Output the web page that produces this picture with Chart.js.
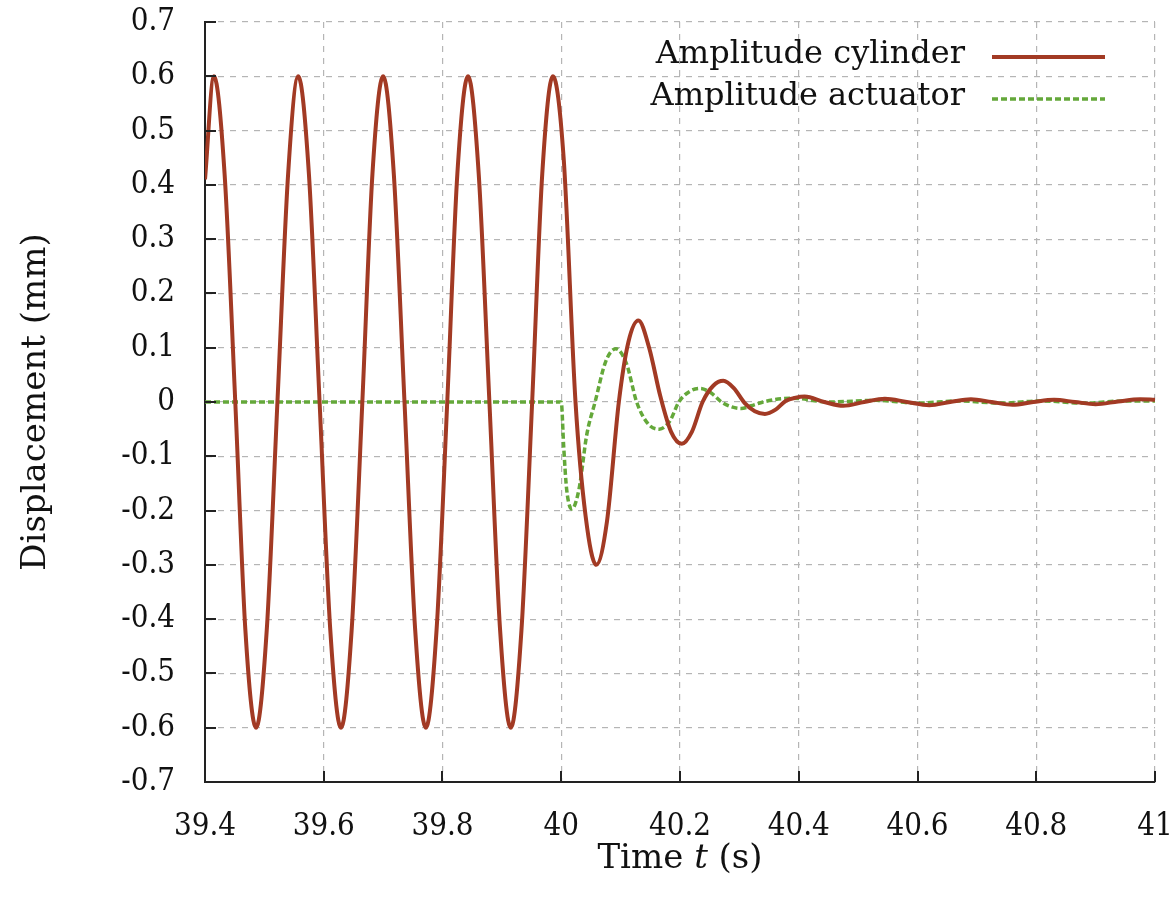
<!DOCTYPE html>
<html>
<head>
<meta charset="utf-8">
<script src="https://cdn.jsdelivr.net/npm/chart.js@4.4.1/dist/chart.umd.min.js"></script>
<style>
  html, body { margin: 0; padding: 0; background: #fff; }
  #wrap { width: 1176px; height: 902px; position: relative; }
</style>
</head>
<body>
<div id="wrap"><canvas id="displacementChart"></canvas></div>
<script>
// values
const cylinderTime = [39.400, 39.415, 39.433, 39.451, 39.468, 39.486, 39.504, 39.522, 39.540, 39.557,
  39.575, 39.593, 39.611, 39.629, 39.647, 39.665, 39.682, 39.700, 39.718, 39.736,
  39.754, 39.772, 39.790, 39.808, 39.825, 39.843, 39.861, 39.879, 39.897, 39.915,
  39.933, 39.951, 39.968, 39.986, 40.004, 40.024, 40.041, 40.059, 40.077, 40.097,
  40.113, 40.130, 40.148, 40.167, 40.185, 40.203, 40.220, 40.238, 40.256, 40.273,
  40.291, 40.309, 40.326, 40.343, 40.361, 40.378, 40.395, 40.410, 40.443, 40.475,
  40.510, 40.545, 40.582, 40.620, 40.655, 40.690, 40.725, 40.760, 40.795, 40.830,
  40.865, 40.900, 40.938, 40.975, 41.000];
const cylinderAmp = [0.41, 0.60, 0.42, 0.00, -0.42, -0.60, -0.42, 0.00, 0.42, 0.60,
  0.42, 0.00, -0.42, -0.60, -0.42, 0.00, 0.42, 0.60, 0.42, 0.00,
  -0.42, -0.60, -0.42, 0.00, 0.42, 0.60, 0.42, 0.00, -0.42, -0.60,
  -0.42, 0.00, 0.42, 0.60, 0.45, 0.00, -0.21, -0.30, -0.22, 0.00,
  0.11, 0.15, 0.10, 0.01, -0.055, -0.077, -0.055, 0.00, 0.03, 0.039,
  0.025, -0.002, -0.017, -0.022, -0.014, 0.002, 0.008, 0.010, 0.000, -0.007,
  0.000, 0.006, 0.000, -0.006, 0.000, 0.005, 0.000, -0.005, 0.000, 0.004,
  0.000, -0.004, 0.001, 0.005, 0.004];

const actuatorTime = [39.400, 40.000, 40.004, 40.009, 40.018, 40.030, 40.043, 40.057, 40.075, 40.092,
  40.110, 40.127, 40.146, 40.165, 40.183, 40.198, 40.217, 40.234, 40.252, 40.270,
  40.287, 40.303, 40.320, 40.340, 40.370, 40.390, 40.450, 40.530, 40.600, 40.670,
  40.740, 40.810, 40.880, 40.950, 41.000];
const actuatorAmp = [0.000, 0.000, -0.08, -0.16, -0.197, -0.16, -0.06, 0.00, 0.075, 0.098,
  0.07, 0.00, -0.04, -0.050, -0.035, 0.00, 0.02, 0.025, 0.017, 0.000,
  -0.009, -0.012, -0.007, 0.000, 0.006, 0.007, 0.000, 0.003, -0.002, 0.002,
  -0.002, 0.002, -0.002, 0.002, 0.002];

const seriesNames = ['Amplitude cylinder', 'Amplitude actuator'];
const xTicks = [39.4, 39.6, 39.8, 40, 40.2, 40.4, 40.6, 40.8, 41];
const xTickLabels = ['39.4', '39.6', '39.8', '40', '40.2', '40.4', '40.6', '40.8', '41'];
const yTicks = [-0.7, -0.6, -0.5, -0.4, -0.3, -0.2, -0.1, 0, 0.1, 0.2, 0.3, 0.4, 0.5, 0.6, 0.7];
const yTickLabels = ['-0.7', '-0.6', '-0.5', '-0.4', '-0.3', '-0.2', '-0.1', '0', '0.1', '0.2', '0.3', '0.4', '0.5', '0.6', '0.7'];

const NUM_FONT = '"DejaVu Serif Condensed", "DejaVu Serif", serif';
const TXT_FONT = '"DejaVu Serif", serif';

// gnuplot style key: text right aligned, sample line on the right
const keyPlugin = {
  id: 'gnuplotKey',
  afterDatasetsDraw(chart) {
    const ctx = chart.ctx;
    const rows = [55, 97];
    ctx.save();
    ctx.font = '32px ' + TXT_FONT;
    ctx.textAlign = 'right';
    ctx.textBaseline = 'middle';
    chart.data.datasets.forEach((ds, i) => {
      const y = rows[i];
      ctx.fillStyle = '#111';
      ctx.fillText(ds.label, 965, y);
      ctx.strokeStyle = ds.borderColor;
      ctx.lineWidth = ds.borderWidth;
      ctx.setLineDash(ds.borderDash || []);
      ctx.beginPath();
      ctx.moveTo(992, y + 2);
      ctx.lineTo(1105, y + 2);
      ctx.stroke();
    });
    ctx.restore();
  }
};

// inward tick marks plus x axis title with italic t
const axisExtras = {
  id: 'axisExtras',
  afterDraw(chart) {
    const ctx = chart.ctx;
    const { left, bottom } = chart.chartArea;
    const xs = chart.scales.x, ys = chart.scales.y;
    ctx.save();
    ctx.strokeStyle = '#222';
    ctx.lineWidth = 2;
    yTicks.forEach(v => {
      const y = Math.round(ys.getPixelForValue(v));
      ctx.beginPath(); ctx.moveTo(left, y); ctx.lineTo(left + 11, y); ctx.stroke();
    });
    xTicks.forEach(v => {
      const x = Math.round(xs.getPixelForValue(v));
      ctx.beginPath(); ctx.moveTo(x, bottom); ctx.lineTo(x, bottom - 11); ctx.stroke();
    });

    const parts = [['Time ', '34px ' + TXT_FONT], ['t', 'italic 34px ' + TXT_FONT], [' (s)', '34px ' + TXT_FONT]];
    let total = 0;
    parts.forEach(p => { ctx.font = p[1]; total += ctx.measureText(p[0]).width; });
    let x = (chart.chartArea.left + chart.chartArea.right) / 2 - total / 2;
    ctx.fillStyle = '#111';
    ctx.textBaseline = 'middle';
    ctx.textAlign = 'left';
    parts.forEach(p => {
      ctx.font = p[1];
      ctx.fillText(p[0], x, 859);
      x += ctx.measureText(p[0]).width;
    });
    ctx.restore();
  }
};

const ctx = document.getElementById('displacementChart').getContext('2d');

new Chart(ctx, {
  type: 'line',
  data: {
    datasets: [
      {
        label: seriesNames[0],
        data: cylinderTime.map((t, i) => ({ x: t, y: cylinderAmp[i] })),
        borderColor: '#a23a24',
        borderWidth: 4,
        pointRadius: 0,
        cubicInterpolationMode: 'monotone',
        fill: false,
      },
      {
        label: seriesNames[1],
        data: actuatorTime.map((t, i) => ({ x: t, y: actuatorAmp[i] })),
        borderColor: '#64a83a',
        borderWidth: 3.5,
        borderDash: [6, 3],
        pointRadius: 0,
        cubicInterpolationMode: 'monotone',
        fill: false,
      },
    ],
  },
  options: {
    responsive: true,
    maintainAspectRatio: false,
    animation: false,
    layout: { padding: { left: 0, right: 21, top: 22, bottom: 0 } },
    plugins: {
      legend: { display: false },
      tooltip: { enabled: false },
    },
    scales: {
      x: {
        type: 'linear',
        min: 39.4,
        max: 41,
        afterBuildTicks: scale => { scale.ticks = xTicks.map(v => ({ value: v })); },
        afterFit: scale => {
          scale.height = 120;
          scale.paddingLeft = 0;
          scale.paddingRight = 0;
        },
        ticks: {
          callback: (v) => xTickLabels[xTicks.findIndex(t => Math.abs(t - v) < 1e-6)],
          color: '#111',
          font: { family: NUM_FONT, size: 31 },
          padding: 26,
          maxRotation: 0,
        },
        grid: {
          color: '#b5b5b5',
          lineWidth: 1.2,
          drawTicks: false,
        },
        border: { display: true, color: '#222', width: 2, dash: [6, 6] },
      },
      y: {
        min: -0.7,
        max: 0.7,
        afterBuildTicks: scale => { scale.ticks = yTicks.map(v => ({ value: v })); },
        afterFit: scale => {
          scale.width = 205;
          scale.paddingTop = 0;
          scale.paddingBottom = 0;
        },
        ticks: {
          callback: (v) => yTickLabels[yTicks.findIndex(t => Math.abs(t - v) < 1e-6)],
          color: '#111',
          font: { family: NUM_FONT, size: 31 },
          padding: 30,
        },
        grid: {
          color: '#b5b5b5',
          lineWidth: 1.2,
          drawTicks: false,
        },
        border: { display: true, color: '#222', width: 2, dash: [6, 6] },
        title: {
          display: true,
          text: 'Displacement (mm)',
          color: '#111',
          font: { family: TXT_FONT, size: 34 },
          padding: { top: 16, bottom: 0 },
        },
      },
    },
  },
  plugins: [keyPlugin, axisExtras],
});
</script>
</body>
</html>
